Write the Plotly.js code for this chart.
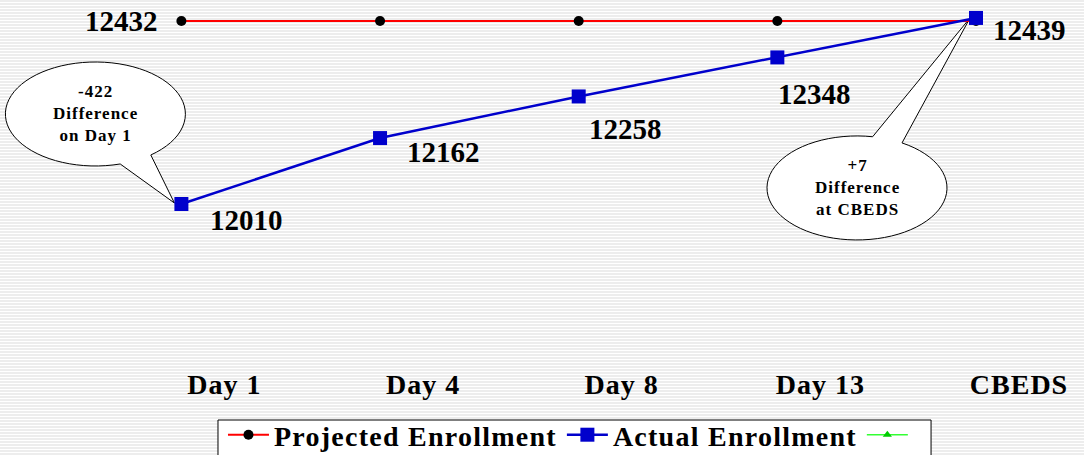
<!DOCTYPE html>
<html>
<head>
<meta charset="utf-8">
<script src="https://cdn.plot.ly/plotly-3.0.1.min.js"></script>
<style>
  html, body { margin: 0; padding: 0; }
  body {
    width: 1084px; height: 455px; overflow: hidden;
    background: repeating-linear-gradient(to bottom, #ededed 0px, #ededed 2px, #ffffff 2px, #ffffff 3px);
  }
  #chart { width: 1084px; height: 455px; }
  #chart .xtick text { letter-spacing: 1px; }
</style>
</head>
<body>
<div id="chart"></div>
<script>
// ---- data ----
const categories = ["Day 1", "Day 4", "Day 8", "Day 13", "CBEDS"];
const projectedEnrollment = [12432, 12432, 12432, 12432, 12432];
const actualEnrollment = [12010, 12162, 12258, 12348, 12439];
const thirdSeries = [null, null, null, null, null];
const seriesNames = ["Projected Enrollment", "Actual Enrollment", ""];
const calloutTexts = [["-422", "Difference", "on Day 1"], ["+7", "Difference", "at CBEDS"]];

// ---- styling / placement ----
const FONT = "'Liberation Serif', 'Times New Roman', serif";
const labelFont = { family: FONT, size: 29, color: "#000", weight: "bold" };
const spaced = (s, px) => s ? '<span style="letter-spacing:' + px + 'px">' + s + '</span>' : " ";

// which point gets a value label, and pixel offsets of the label from the point
const projectedLabelIdx = [0];
const projectedLabelShift = [[-60, 0]];
const actualLabelShift = [[65, -16], [63, -14], [47, -33], [37, -37], [53, -12]];

const traces = [
  {
    x: categories, y: projectedEnrollment, name: spaced(seriesNames[0], 1.25),
    type: "scatter", mode: "lines+markers",
    line: { color: "#ff0000", width: 2 },
    marker: { color: "#000000", size: 10, symbol: "circle" },
    cliponaxis: false
  },
  {
    x: categories, y: actualEnrollment, name: spaced(seriesNames[1], 1.25),
    type: "scatter", mode: "lines+markers",
    line: { color: "#0000cc", width: 2.5 },
    marker: { color: "#0000cc", size: 14, symbol: "square" },
    cliponaxis: false
  },
  {
    x: categories, y: thirdSeries, name: spaced(seriesNames[2], 1.25),
    type: "scatter", mode: "lines+markers",
    line: { color: "#33ff33", width: 1.5 },
    marker: { color: "#00cc00", size: 8, symbol: "triangle-up" },
    showlegend: true
  }
];

const annotations = [];
projectedLabelIdx.forEach((i, k) => {
  annotations.push({
    x: categories[i], y: projectedEnrollment[i], xref: "x", yref: "y",
    text: String(projectedEnrollment[i]), showarrow: false,
    xshift: projectedLabelShift[k][0], yshift: projectedLabelShift[k][1],
    font: labelFont
  });
});
actualEnrollment.forEach((v, i) => {
  annotations.push({
    x: categories[i], y: v, xref: "x", yref: "y",
    text: String(v), showarrow: false,
    xshift: actualLabelShift[i][0], yshift: actualLabelShift[i][1],
    font: labelFont
  });
});

// speech bubble shapes (pixel-sized, anchored to a data point)
function bubblePath(cx, cy, rx, ry, tStart, tEnd, tipX, tipY) {
  let d = "";
  const n = 72;
  for (let k = 0; k <= n; k++) {
    const t = (tStart + (tEnd - tStart) * k / n) * Math.PI / 180;
    const px = cx + rx * Math.cos(t);
    const py = cy + ry * Math.sin(t);
    d += (k === 0 ? "M" : "L") + px.toFixed(2) + "," + (-py).toFixed(2);
  }
  d += "L" + tipX + "," + (-tipY) + "Z";
  return d;
}

const callouts = [
  { idx: 0, cx: -86, cy: -90, rx: 90, ry: 52, t0: 74, t1: 412, tip: [-7, -1] },
  { idx: 4, cx: -119, cy: 170, rx: 90, ry: 52, t0: -60, t1: 280, tip: [-6, 0] }
];

const shapes = callouts.map(c => ({
  type: "path", layer: "below",
  xref: "x", yref: "y",
  xsizemode: "pixel", ysizemode: "pixel",
  xanchor: categories[c.idx], yanchor: actualEnrollment[c.idx],
  path: bubblePath(c.cx, c.cy, c.rx, c.ry, c.t0, c.t1, c.tip[0], c.tip[1]),
  fillcolor: "#ffffff",
  line: { color: "#000000", width: 1 }
}));

// legend frame
shapes.push({
  type: "rect", layer: "below", xref: "paper", yref: "paper",
  x0: 0.2011, x1: 0.8589, y0: -0.1507, y1: -0.30,
  fillcolor: "#ffffff", line: { color: "#000000", width: 1 }
});

callouts.forEach((c, k) => {
  annotations.push({
    x: categories[c.idx], y: actualEnrollment[c.idx], xref: "x", yref: "y",
    text: calloutTexts[k].map(s => spaced(s, 1)).join("<br>"),
    showarrow: false,
    xshift: c.cx, yshift: -c.cy,
    font: { family: FONT, size: 17, color: "#000", weight: "bold" },
    align: "center"
  });
});

const layout = {
  width: 1084, height: 455,
  margin: { l: 0, r: 0, t: 0, b: 90, autoexpand: false },
  paper_bgcolor: "rgba(0,0,0,0)",
  plot_bgcolor: "rgba(0,0,0,0)",
  showlegend: true,
  xaxis: {
    type: "category", range: [-0.9132, 4.5437],
    showgrid: false, zeroline: false, showline: false, ticks: "",
    tickfont: { family: FONT, size: 28, color: "#000", weight: "bold" },
    ticklabelshift: 43, ticklabelstandoff: 0,
    automargin: false, fixedrange: true
  },
  yaxis: {
    range: [11638.7, 12480.4],
    visible: false, showgrid: false, zeroline: false, fixedrange: true
  },
  legend: {
    orientation: "h",
    x: 0.2057, xanchor: "left", xref: "paper",
    y: -0.1233, yanchor: "top", yref: "paper",
    bgcolor: "rgba(0,0,0,0)", borderwidth: 0,
    itemwidth: 41,
    font: { family: FONT, size: 28, color: "#000", weight: "bold" },
    itemclick: false, itemdoubleclick: false
  },
  shapes: shapes,
  annotations: annotations
};

Plotly.newPlot("chart", traces, layout, { displayModeBar: false, staticPlot: true });
</script>
</body>
</html>
